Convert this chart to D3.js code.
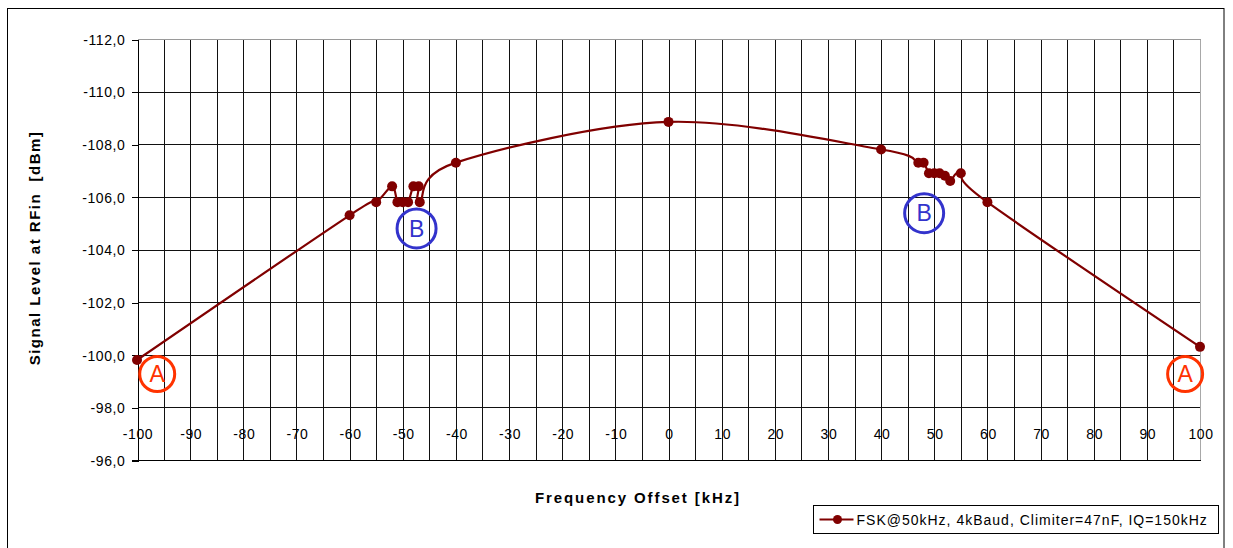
<!DOCTYPE html>
<html>
<head>
<meta charset="utf-8">
<script src="https://cdn.jsdelivr.net/npm/d3@7"></script>
<style>
  html, body { margin: 0; padding: 0; background: #fff; }
  svg { display: block; }
  text { font-family: "Liberation Sans", Arial, sans-serif; }
</style>
</head>
<body>
<svg id="chart" width="1233" height="548"></svg>
<script>
// Measured signal level versus frequency offset
const freqKHz = [-100, -60, -55, -52, -51, -50, -49, -48, -47, -46.8, -40, 0, 40,
                 47, 48, 49, 50, 51, 52, 53, 55, 60, 100];
const levelDbm = [-99.8, -105.3, -105.8, -106.4, -105.8, -105.8, -105.8, -106.4, -106.4, -105.8, -107.3, -108.85, -107.8,
                  -107.3, -107.3, -106.9, -106.9, -106.9, -106.8, -106.6, -106.9, -105.8, -100.3];

const xTickValues = d3.range(-100, 101, 10);
const xGridValues = d3.range(-100, 101, 5);
const yTickValues = d3.range(-112, -95, 2);

// Circled markers placed on the chart
const markLabels = ["A", "A", "B", "B"];
const markFreq = [-96.2, 97.2, -47.4, 48.1];
const markLevel = [-99.27, -99.27, -104.8, -105.38];
const markKind = ["a", "a", "b", "b"];

const seriesName = "FSK@50kHz, 4kBaud, Climiter=47nF, IQ=150kHz";
const xTitle = "Frequency Offset [kHz]";
const yTitle = "Signal Level at RFin  [dBm]";

const svg = d3.select("#chart");
const W = 1233, H = 548;
const plot = { left: 137, right: 1200, top: 39, bottom: 460 };

const x = d3.scaleLinear().domain([-100, 100]).range([plot.left, plot.right]);
const y = d3.scaleLinear().domain([-112, -96]).range([plot.top, plot.bottom]);
const px = v => Math.round(x(v)) + 0.5;
const py = v => Math.round(y(v)) + 0.5;

const commaFmt = d3.formatLocale({ decimal: ",", thousands: ".", grouping: [3], currency: ["", ""], minus: "-" }).format(".1f");

// Outer chart frame
svg.append("rect")
  .attr("x", 7.5).attr("y", 8.5).attr("width", W - 9.5 - 7).attr("height", H + 20)
  .attr("fill", "#fff").attr("stroke", "#000").attr("stroke-width", 1);

// Gridlines
const grid = svg.append("g").attr("stroke", "#111").attr("stroke-width", 1).attr("shape-rendering", "crispEdges");
grid.selectAll("line.v").data(xGridValues.filter(v => v > -100 && v < 100)).join("line")
  .attr("x1", d => px(d)).attr("x2", d => px(d))
  .attr("y1", py(-112)).attr("y2", py(-96));
grid.selectAll("line.h").data(yTickValues.filter(v => v > -112 && v < -96)).join("line")
  .attr("x1", px(-100)).attr("x2", px(100))
  .attr("y1", d => py(d)).attr("y2", d => py(d));

// Plot area border: light on top/right, axes on left/bottom
svg.append("line").attr("x1", px(-100)).attr("x2", px(100)).attr("y1", py(-112)).attr("y2", py(-112))
  .attr("stroke", "#9a9a9a").attr("shape-rendering", "crispEdges");
svg.append("line").attr("x1", px(100)).attr("x2", px(100)).attr("y1", py(-112)).attr("y2", py(-96))
  .attr("stroke", "#a8a8a8").attr("shape-rendering", "crispEdges");

// Y axis with outside ticks
const yAxis = d3.axisLeft(y).tickValues(yTickValues).tickSize(6).tickPadding(6).tickFormat(commaFmt);
const gy = svg.append("g").attr("transform", `translate(${px(-100)},0.5)`).call(yAxis);
gy.select(".domain").attr("stroke", "#000").attr("shape-rendering", "crispEdges");
gy.selectAll(".tick line").attr("stroke", "#000").attr("shape-rendering", "crispEdges");
gy.selectAll(".tick text")
  .attr("fill", "#000").attr("font-size", 14).attr("letter-spacing", "0.6px")
  .attr("font-family", "'Liberation Sans', Arial, sans-serif")
  .attr("dy", "0.34em");

// Bottom axis line
svg.append("line").attr("x1", px(-100) - 6).attr("x2", px(100)).attr("y1", py(-96)).attr("y2", py(-96))
  .attr("stroke", "#000").attr("shape-rendering", "crispEdges");

// X tick labels sit inside the bottom band of the grid
svg.append("g").selectAll("text").data(xTickValues).join("text")
  .attr("x", d => x(d) + 1)
  .attr("y", y(-97))
  .attr("dy", "0.36em")
  .attr("text-anchor", "middle")
  .attr("font-size", 14).attr("letter-spacing", "0.6px")
  .attr("fill", "#000")
  .text(d => String(d));

// Axis titles
svg.append("text")
  .attr("x", 638).attr("y", 503)
  .attr("text-anchor", "middle")
  .attr("font-size", 15).attr("font-weight", "bold").attr("letter-spacing", "1.9px")
  .text(xTitle);
svg.append("text")
  .attr("transform", "translate(40,248) rotate(-90)")
  .attr("text-anchor", "middle")
  .attr("font-size", 15).attr("font-weight", "bold").attr("letter-spacing", "1.5px")
  .style("white-space", "pre")
  .text(yTitle);

// Series: smoothed line with markers
const pts = freqKHz.map((f, i) => [f, levelDbm[i]]);
const line = d3.line().x(d => x(d[0])).y(d => y(d[1])).curve(d3.curveCatmullRom.alpha(0));
const seriesColor = "#800000";
svg.append("path").datum(pts)
  .attr("d", line).attr("fill", "none")
  .attr("stroke", seriesColor).attr("stroke-width", 2.2);
svg.append("g").selectAll("circle").data(pts).join("circle")
  .attr("cx", d => x(d[0])).attr("cy", d => y(d[1])).attr("r", 5)
  .attr("fill", seriesColor);

// Circled letters
const markColor = { a: "#ff3300", b: "#3333cc" };
const markR = { a: 17.5, b: 19.5 };
const marks = svg.append("g").selectAll("g").data(markLabels.map((t, i) => ({ t, f: markFreq[i], l: markLevel[i], k: markKind[i] })))
  .join("g").attr("transform", d => `translate(${x(d.f)},${y(d.l)})`);
marks.append("circle").attr("r", d => markR[d.k]).attr("fill", "none")
  .attr("stroke", d => markColor[d.k]).attr("stroke-width", 3);
marks.append("text").attr("text-anchor", "middle").attr("dy", "0.36em")
  .attr("font-size", 23).attr("fill", d => markColor[d.k]).text(d => d.t);

// Legend
const lg = svg.append("g").attr("transform", "translate(813.5,505.5)");
lg.append("rect").attr("width", 405).attr("height", 28).attr("fill", "#fff")
  .attr("stroke", "#000").attr("stroke-width", 1);
lg.append("line").attr("x1", 6).attr("x2", 40).attr("y1", 14).attr("y2", 14)
  .attr("stroke", seriesColor).attr("stroke-width", 2.2);
lg.append("circle").attr("cx", 24).attr("cy", 14).attr("r", 4.5).attr("fill", seriesColor);
lg.append("text").attr("x", 43).attr("y", 14).attr("dy", "0.36em")
  .attr("font-size", 14).attr("letter-spacing", "1px").attr("fill", "#000")
  .text(seriesName);
</script>
</body>
</html>
